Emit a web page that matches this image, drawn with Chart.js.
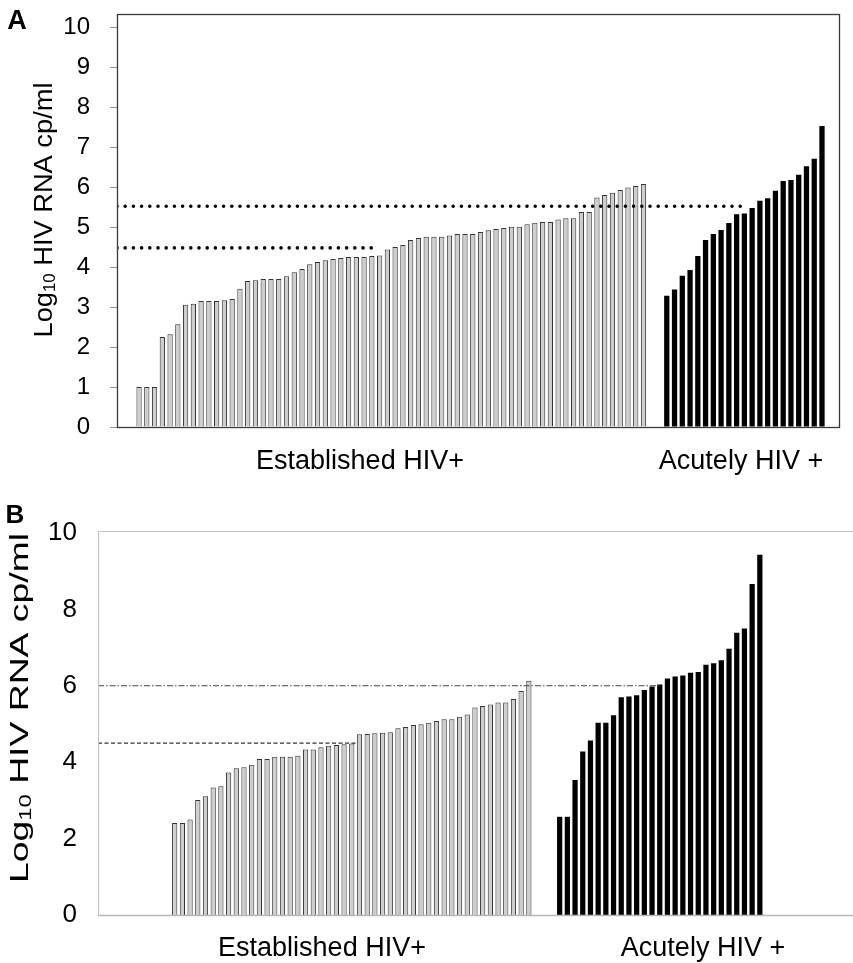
<!DOCTYPE html>
<html><head><meta charset="utf-8">
<script src="https://cdn.jsdelivr.net/npm/chart.js@4.4.1/dist/chart.umd.min.js"></script>
<style>
html,body{margin:0;padding:0;background:#fff;}
canvas{display:block;}
</style></head>
<body>
<canvas id="chartA" width="853" height="480"></canvas>
<canvas id="chartB" width="853" height="483"></canvas>
<script>
// ---------- data ----------
const groupLabels = ['Established HIV+', 'Acutely HIV +'];
const panelLabels = ['A', 'B'];
const yTitleMain = 'Log', yTitleSub = '10', yTitleRest = ' HIV RNA cp/ml';

const establishedA = [1.0,1.0,1.0,2.25,2.32,2.57,3.06,3.08,3.15,3.15,3.15,3.17,3.2,3.46,3.65,3.67,3.7,3.7,3.7,3.77,
  3.87,3.95,4.07,4.13,4.17,4.2,4.23,4.25,4.25,4.25,4.28,4.29,4.44,4.5,
  4.55,4.68,4.73,4.76,4.76,4.76,4.79,4.83,4.83,4.83,4.88,4.92,4.95,4.98,5.01,5.01,5.07,5.11,5.13,5.13,
  5.19,5.22,5.22,5.38,5.38,5.74,5.8,5.86,5.93,5.99,6.03,6.08];
const acuteA = [3.28,3.44,3.78,3.93,4.28,4.68,4.83,4.93,5.1,5.32,5.34,5.48,5.66,5.72,5.91,6.15,6.18,6.31,6.52,6.71,7.53];

const establishedB = [2.41,2.41,2.5,3.01,3.11,3.34,3.37,3.73,3.84,3.87,3.93,4.08,4.08,4.14,4.14,4.14,4.17,4.33,4.33,4.39,
  4.43,4.45,4.47,4.49,4.73,4.74,4.76,4.77,4.78,4.89,4.92,4.97,4.99,5.03,5.08,5.12,5.12,5.19,5.25,5.43,5.47,
  5.51,5.56,5.56,5.65,5.86,6.13];
const acuteB = [2.57,2.57,3.53,4.28,4.57,5.03,5.03,5.23,5.70,5.72,5.75,5.89,5.98,6.03,6.19,6.24,6.27,6.34,6.36,
  6.55,6.59,6.67,6.97,7.39,7.50,8.66,9.43];

const yTicksA = [0,1,2,3,4,5,6,7,8,9,10];
const yTicksB = [0,2,4,6,8,10];

// reference thresholds (value, and the bar index where the line stops)
const refValuesA = [5.52, 4.48];
const refEndsA   = [77.7, 30.4];
const refValuesB = [6.0, 4.5];
const refEndsB   = [63.0, 23.8];

// ---------- helpers ----------
const FONT = '"Liberation Sans", Arial, Helvetica, sans-serif';
Chart.defaults.font.family = FONT;
Chart.defaults.color = '#000';

function barPoints(values, offset) {
  return values.map((v, i) => ({x: offset + i, y: v}));
}

const decor = {
  id: 'decor',
  afterDatasetsDraw(chart, args, o) {
    const {ctx, chartArea: a} = chart;
    ctx.save();
    if (o.box) {
      ctx.strokeStyle = '#3a3a3a';
      ctx.lineWidth = 1.3;
      ctx.strokeRect(a.left + 0.5, a.top + 0.5, a.right - a.left - 1, a.bottom - a.top);
    } else {
      ctx.strokeStyle = '#c4c4c4';
      ctx.lineWidth = 1.2;
      ctx.beginPath();
      ctx.moveTo(a.right, a.top + 0.5); ctx.lineTo(a.left + 0.5, a.top + 0.5);
      ctx.lineTo(a.left + 0.5, a.bottom);
      ctx.stroke();
      ctx.strokeStyle = '#b8b8b8';
      ctx.lineWidth = 1.5;
      ctx.beginPath();
      ctx.moveTo(a.left, a.bottom + 0.5); ctx.lineTo(a.right, a.bottom + 0.5);
      ctx.stroke();
    }
    ctx.restore();
  },
  afterDraw(chart, args, o) {
    const ctx = chart.ctx;
    ctx.save();
    ctx.fillStyle = '#000';
    // panel letter
    ctx.font = 'bold ' + o.letter.size + 'px ' + FONT;
    ctx.textAlign = 'center';
    ctx.textBaseline = 'alphabetic';
    ctx.fillText(o.letter.text, o.letter.x, o.letter.y);
    // group labels
    ctx.font = o.groups.size + 'px ' + FONT;
    o.groups.items.forEach(g => ctx.fillText(g.text, g.x, o.groups.y));
    // y title with subscript
    const t = o.title;
    const fMain = t.size + 'px ' + FONT;
    const fSub = Math.round(t.size * 0.62) + 'px ' + FONT;
    ctx.translate(t.x, t.y);
    ctx.rotate(-Math.PI / 2);
    ctx.font = fMain;
    const w1 = ctx.measureText(yTitleMain).width;
    const w3 = ctx.measureText(yTitleRest).width;
    ctx.font = fSub;
    const w2 = ctx.measureText(yTitleSub).width;
    const total = w1 + w2 + w3;
    ctx.scale(t.length / total, 1);
    ctx.textAlign = 'left';
    let x = -total / 2;
    ctx.font = fMain; ctx.fillText(yTitleMain, x, 0); x += w1;
    ctx.font = fSub; ctx.fillText(yTitleSub, x, t.size * 0.12); x += w2;
    ctx.font = fMain; ctx.fillText(yTitleRest, x, 0);
    ctx.restore();
  }
};

function makeChart(id, p) {
  const acuteOffset = p.established.length + p.gap;
  const refDatasets = p.refValues.map((v, i) => ({
    type: 'line',
    data: [{x: p.xMin, y: v}, {x: p.refEnds[i], y: v}],
    borderColor: p.refStyles[i].color,
    borderWidth: p.refStyles[i].width,
    borderDash: p.refStyles[i].dash,
    borderCapStyle: p.refStyles[i].cap,
    pointRadius: 0,
    fill: false,
    order: 0
  }));
  return new Chart(document.getElementById(id), {
    type: 'bar',
    data: {
      datasets: [
        {
          data: barPoints(p.established, 0),
          backgroundColor: '#cecece',
          borderColor: '#333',
          borderWidth: 1,
          grouped: false,
          categoryPercentage: 1,
          barPercentage: 0.68,
          order: 1
        },
        {
          data: barPoints(p.acute, acuteOffset),
          backgroundColor: '#000',
          borderWidth: 0,
          grouped: false,
          categoryPercentage: 1,
          barPercentage: 0.68,
          order: 1
        },
        ...refDatasets
      ]
    },
    options: {
      responsive: false,
      animation: false,
      events: [],
      layout: {padding: p.padding},
      plugins: {
        legend: {display: false},
        tooltip: {enabled: false},
        decor: p.decor
      },
      scales: {
        x: {
          type: 'linear',
          display: false,
          offset: false,
          min: p.xMin,
          max: p.xMax,
          grid: {offset: false}
        },
        y: {
          min: 0,
          max: p.yMax,
          afterBuildTicks: s => { s.ticks = p.yTicks.map(v => ({value: v})); },
          afterFit: s => { s.width = p.axisWidth; s.paddingTop = 0; s.paddingBottom = 0; },
          border: {display: false},
          grid: p.grid,
          ticks: {
            font: {size: p.tickSize},
            color: '#000',
            padding: p.tickPadding
          }
        }
      }
    },
    plugins: [decor]
  });
}

makeChart('chartA', {
  established: establishedA, acute: acuteA, gap: 2,
  xMin: -2.84, xMax: 90.32, yMax: 10.33, yTicks: yTicksA,
  refValues: refValuesA, refEnds: refEndsA,
  refStyles: [
    {color: '#000', width: 3.6, dash: [0, 8.2], cap: 'round'},
    {color: '#000', width: 3.6, dash: [0, 8.2], cap: 'round'}
  ],
  padding: {left: 0, top: 14, right: 13, bottom: 53},
  axisWidth: 117,
  tickSize: 24, tickPadding: 20,
  grid: {display: true, drawOnChartArea: false, drawTicks: true, tickLength: 7, tickColor: '#9a9a9a', tickWidth: 1},
  decor: {
    box: true,
    letter: {text: panelLabels[0], x: 17, y: 29, size: 27},
    groups: {size: 27, y: 469, items: [{text: groupLabels[0], x: 360}, {text: groupLabels[1], x: 741}]},
    title: {x: 52, y: 210, size: 26, length: 255}
  }
});

makeChart('chartB', {
  established: establishedB, acute: acuteB, gap: 3,
  xMin: -9.96, xMax: 88.1, yMax: 10.05, yTicks: yTicksB,
  refValues: refValuesB, refEnds: refEndsB,
  refStyles: [
    {color: '#444', width: 1.2, dash: [6, 2, 1.5, 2], cap: 'butt'},
    {color: '#333', width: 1.2, dash: [4, 2.5], cap: 'butt'}
  ],
  padding: {left: 0, top: 51, right: 0, bottom: 48},
  axisWidth: 98,
  tickSize: 26, tickPadding: 13,
  grid: {display: false},
  decor: {
    box: false,
    letter: {text: panelLabels[1], x: 15, y: 43, size: 26},
    groups: {size: 27, y: 476, items: [{text: groupLabels[0], x: 322}, {text: groupLabels[1], x: 703}]},
    title: {x: 28, y: 228, size: 25, length: 350}
  }
});
</script>
</body></html>
